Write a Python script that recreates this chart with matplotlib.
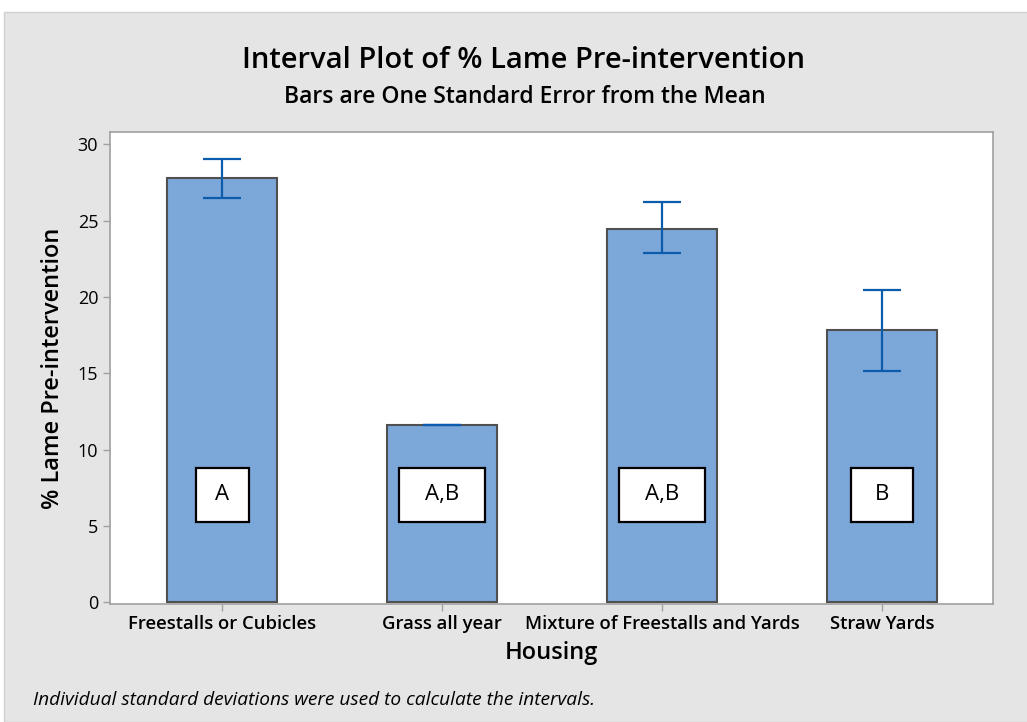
import matplotlib
matplotlib.use("Agg")
from matplotlib import pyplot as plt
from matplotlib.patches import Rectangle

# datos
housing = ["Freestalls or Cubicles", "Grass all year",
           "Mixture of Freestalls and Yards", "Straw Yards"]
mean_lame = [27.8, 11.6, 24.45, 17.85]
err_low = [1.3, 0.0, 1.55, 2.7]
err_high = [1.2, 0.0, 1.75, 2.6]
groups = ["A", "A,B", "A,B", "B"]
yticks = [0, 5, 10, 15, 20, 25, 30]

plt.rcParams['font.family'] = ['Open Sans', 'DejaVu Sans']

fig = plt.figure(figsize=(10.27, 7.22), dpi=100)
fig.patch.set_facecolor('white')
# fondo gris con margen blanco arriba / izquierda
fig.patches.append(Rectangle((4 / 1027, 0), 1, 1 - 12 / 722,
                             transform=fig.transFigure, facecolor='#e5e5e5',
                             edgecolor='#d0d0d0', linewidth=1, zorder=-10))

ax = fig.add_axes([110 / 1027, 1 - 604 / 722, 883 / 1027, 472 / 722])
ax.set_facecolor('white')

x = list(range(len(housing)))
ax.bar(x, mean_lame, width=0.5, color='#7ba7d9', edgecolor='#505050',
       linewidth=1.5, zorder=2)
ax.errorbar(x, mean_lame, yerr=[err_low, err_high], fmt='none',
            ecolor='#0b5cad', elinewidth=1.6, capsize=13.5, capthick=1.6,
            zorder=3)

# cajas con las letras de agrupacion
box_w = {"A": 0.24, "A,B": 0.39, "B": 0.28}
for xi, g in zip(x, groups):
    w = box_w[g]
    ax.add_patch(Rectangle((xi - w / 2, 5.3), w, 3.5, facecolor='white',
                           edgecolor='black', linewidth=1.6, zorder=4))
    ax.text(xi, 7.05, g, ha='center', va='center', fontsize=16,
            color='black', zorder=5)

ax.set_xlim(-0.51, 3.505)
ax.set_ylim(-0.1, 30.8)
ax.set_yticks(yticks)
ax.set_xticks(x)
ax.set_xticklabels(housing, fontsize=13.3, fontweight='semibold')
ax.tick_params(axis='y', labelsize=13, colors='#a0a0a0', labelcolor='black',
               length=5, width=1)
ax.tick_params(axis='x', colors='#a0a0a0', labelcolor='black', length=5,
               width=1, pad=3)
for s in ax.spines.values():
    s.set_color('#a0a0a0')
    s.set_linewidth(1.2)

ax.set_ylabel("% Lame Pre-intervention", fontsize=17, fontweight='semibold',
              labelpad=9)
ax.set_xlabel("Housing", fontsize=17, fontweight='semibold', labelpad=6)

fig.text(0.5095, 1 - 60 / 722, "Interval Plot of % Lame Pre-intervention",
         ha='center', va='center', fontsize=21, fontweight='semibold')
fig.text(0.511, 1 - 97 / 722, "Bars are One Standard Error from the Mean",
         ha='center', va='center', fontsize=16.5, fontweight='semibold')
fig.text(33 / 1027, 1 - 700 / 722,
         "Individual standard deviations were used to calculate the intervals.",
         ha='left', va='center', fontsize=13.8, style='italic')

plt.savefig("out.png", dpi=100, facecolor=fig.get_facecolor())
